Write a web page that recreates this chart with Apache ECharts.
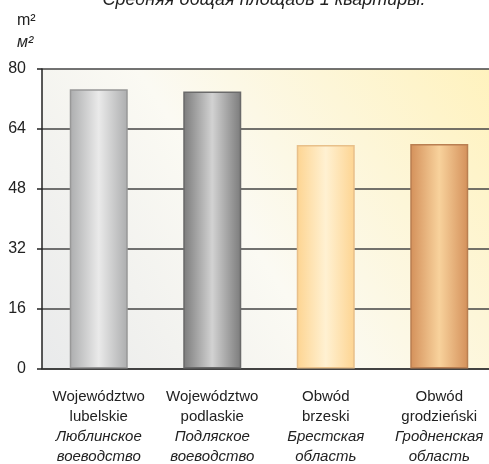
<!DOCTYPE html>
<html><head><meta charset="utf-8">
<script src="https://cdn.jsdelivr.net/npm/echarts@6/dist/echarts.min.js"></script>
<style>html,body{margin:0;padding:0;background:#fff;overflow:hidden}#c{width:496px;height:464px}</style>
</head><body><div id="c"></div>
<script>
const namesPl = ['Województwo\nlubelskie','Województwo\npodlaskie','Obwód\nbrzeski','Obwód\ngrodzieński'];
const namesRu = ['Люблинское\nвоеводство','Подляское\nвоеводство','Брестская\nобласть','Гродненская\nобласть'];
const values = [74.6, 74.0, 59.7, 60.0];
const yTicks = [0,16,32,48,64,80];
const barColors = [
  ['#acadae','#eaeaea','#acadae','#989898'],
  ['#7b7b7b','#d2d2d2','#7b7b7b','#6a6a6a'],
  ['#fdd491','#fff1d2','#fdd491','#e8c08a'],
  ['#d4905a','#f8d29c','#d4905a','#b97f52']
];
const FONT = '"Liberation Sans",Arial,sans-serif';
const chart = echarts.init(document.getElementById('c'));
chart.setOption({
  animation:false,
  graphic:[
    {type:'text', x:264, y:-9, style:{text:'Средняя общая площадь 1 квартиры.', font:'italic 18px '+FONT, fill:'#222', textAlign:'center'}},
    {type:'text', left:17, top:13, style:{text:'m²', font:'16px '+FONT, fill:'#222'}},
    {type:'text', left:17, top:35, style:{text:'м²', font:'italic 16px '+FONT, fill:'#222'}}
  ],
  grid:{left:42, right:0, top:69, bottom:93, show:true, borderWidth:0,
    backgroundColor:new echarts.graphic.LinearGradient(0,1,1,0,[
      {offset:0,color:'#e9eaeb'},{offset:0.45,color:'#fbfaf3'},{offset:1,color:'#fff2bd'}])},
  xAxis:{type:'category', data:namesPl.map((n,i)=>n+'|'+i),
    axisLine:{show:true, lineStyle:{color:'#333', width:1.5}}, axisTick:{show:false},
    axisLabel:{interval:0, margin:18, color:'#222',
      formatter:function(v){const i=+v.split('|')[1];
        return '{a|'+namesPl[i]+'}\n{b|'+namesRu[i]+'}';},
      rich:{a:{fontFamily:FONT, fontSize:15, lineHeight:20, color:'#222', align:'center'},
            b:{fontFamily:FONT, fontSize:15, fontStyle:'italic', lineHeight:20, color:'#222', align:'center'}}}
  },
  yAxis:{type:'value', min:0, max:80, interval:16,
    axisLine:{show:true, onZero:false, lineStyle:{color:'#222', width:1.5}},
    axisTick:{show:true, length:5, lineStyle:{color:'#222', width:1.5}},
    splitLine:{lineStyle:{color:'#444', width:1.5}},
    axisLabel:{color:'#222', fontFamily:FONT, fontSize:16, margin:16,
      formatter:v=>yTicks.includes(v)?String(v):''}
  },
  series:[{type:'bar', barWidth:58,
    data:values.map((v,i)=>({value:v, itemStyle:{
      color:new echarts.graphic.LinearGradient(0,0,1,0,[
        {offset:0,color:barColors[i][0]},{offset:0.5,color:barColors[i][1]},{offset:1,color:barColors[i][2]}]),
      borderColor:barColors[i][3], borderWidth:1.5}}))
  }]
});
</script></body></html>
